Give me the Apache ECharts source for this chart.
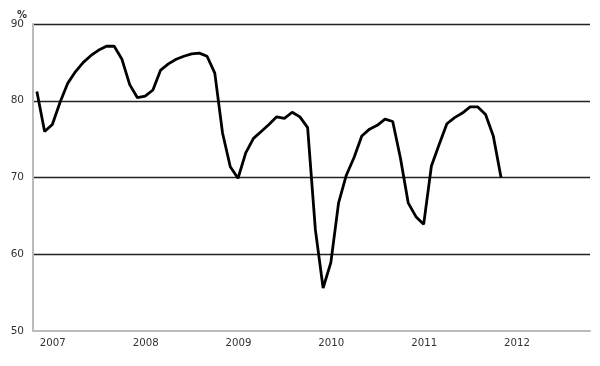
<!DOCTYPE html>
<html>
<head>
<meta charset="utf-8">
<script src="https://cdn.jsdelivr.net/npm/echarts@6/dist/echarts.min.js"></script>
<style>
  html, body { margin: 0; padding: 0; background: #fff; }
  #chart { width: 600px; height: 366px; }
</style>
</head>
<body>
<div id="chart"></div>
<script>
// years on the x axis, one category per month
var years = ['2007', '2008', '2009', '2010', '2011', '2012'];
var monthNames = ['01', '02', '03', '04', '05', '06', '07', '08', '09', '10', '11', '12'];

// monthly values, % (Jan 2007 onwards)
var values = [
  81.2, 76.0, 76.9, 79.8, 82.3, 83.8, 85.0, 85.9, 86.6, 87.1, 87.1, 85.4,
  82.1, 80.4, 80.6, 81.4, 84.0, 84.8, 85.4, 85.8, 86.1, 86.2, 85.8, 83.6,
  75.8, 71.4, 69.9, 73.2, 75.1, 76.0, 76.9, 77.9, 77.7, 78.5, 77.9, 76.5,
  63.2, 55.6, 58.9, 66.7, 70.3, 72.6, 75.4, 76.3, 76.8, 77.6, 77.3, 72.5,
  66.7, 64.9, 63.9, 71.5, 74.3, 77.0, 77.8, 78.4, 79.2, 79.2, 78.2, 75.4,
  70.0
];

var yTicks = [50, 60, 70, 80, 90];

var categories = [];
for (var y = 0; y < years.length; y++) {
  for (var m = 0; m < monthNames.length; m++) {
    categories.push(years[y] + '-' + monthNames[m]);
  }
}

var font = 'DejaVu Sans';

var option = {
  animation: false,
  title: {
    text: '%',
    left: 12,
    top: 5,
    textStyle: { fontSize: 10, fontWeight: 'bold', color: '#333', fontFamily: font }
  },
  grid: { left: 33, right: 10, top: 24, bottom: 35 },
  xAxis: {
    type: 'category',
    data: categories,
    boundaryGap: true,
    axisLine: { lineStyle: { color: '#bbb', width: 2 } },
    axisTick: { show: false },
    axisLabel: {
      interval: function (idx) { return idx % 12 === 0; },
      formatter: function (v) { return v.slice(0, 4); },
      align: 'left',
      padding: [0, 0, 0, 3],
      margin: 7,
      color: '#333',
      fontSize: 10.2,
      fontFamily: font
    },
    splitLine: { show: false }
  },
  yAxis: {
    type: 'value',
    min: yTicks[0],
    max: yTicks[yTicks.length - 1],
    interval: 10,
    axisLine: { show: true, lineStyle: { color: '#bbb', width: 2 } },
    axisTick: { show: false },
    axisLabel: { margin: 9, color: '#333', fontSize: 10.5, fontFamily: font },
    splitLine: {
      lineStyle: { color: ['rgba(0,0,0,0)', '#222', '#222', '#222', '#222'], width: 1.4 }
    }
  },
  series: [{
    type: 'line',
    data: values,
    showSymbol: false,
    symbol: 'none',
    lineStyle: { color: '#000', width: 2.8 },
    itemStyle: { color: '#000' }
  }]
};

var myChart = echarts.init(document.getElementById('chart'), null, { renderer: 'canvas' });
myChart.setOption(option);
</script>
</body>
</html>
